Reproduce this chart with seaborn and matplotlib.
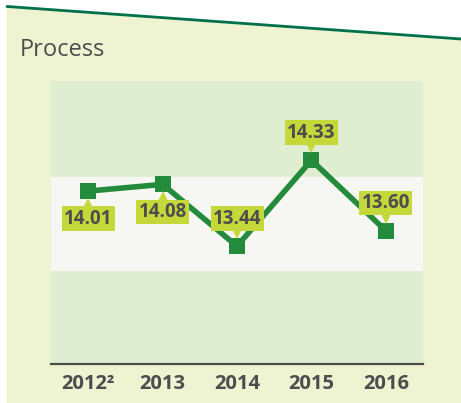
import matplotlib
matplotlib.use("Agg")
import matplotlib.pyplot as plt
import matplotlib.transforms as mtransforms
from matplotlib.patches import Polygon
from matplotlib.lines import Line2D
import seaborn as sns

# chart data
years = ["2012²", "2013", "2014", "2015", "2016"]
values = [14.01, 14.08, 13.44, 14.33, 13.60]
label_side = ["below", "below", "above", "above", "above"]
band_low = 13.19
band_high = 14.16
title = "Process"

# colours
panel_color = "#EEF3D2"
band_green = "#DFEDD0"
band_gray = "#F6F7F3"
line_color = "#238B3B"
label_color = "#C5D83A"
text_color = "#4D4D4D"
rule_color = "#00704A"

sns.set_theme(style="white")
plt.rcParams["font.family"] = ["Open Sans", "DejaVu Sans"]

W, H = 461, 403
fig = plt.figure(figsize=(W / 100, H / 100), dpi=100)
fig.patch.set_facecolor("white")

# slanted background panel and the rule on top of it
def fx(px):
    return px / W

def fy(py):
    return 1 - py / H

panel = Polygon([(fx(7), fy(403)), (fx(7), fy(6.5)), (fx(461), fy(39)), (fx(461), fy(403))],
                closed=True, transform=fig.transFigure, facecolor=panel_color,
                edgecolor="none", zorder=-2)
fig.patches.append(panel)
fig.lines.append(Line2D([fx(7), fx(461)], [fy(6.5), fy(39)], transform=fig.transFigure,
                        color=rule_color, lw=2.0, zorder=-1))

fig.text(fx(20), fy(50), title, fontsize=17, color=text_color, ha="left",
         va="center")

ax = fig.add_axes([fx(51), fy(364), (423 - 51) / W, (364 - 81) / H])
ax.set_zorder(2)
ax.set_facecolor(band_green)
ax.axhspan(band_low, band_high, color=band_gray, zorder=0)

xs = list(range(len(years)))
sns.lineplot(x=xs, y=values, ax=ax, color=line_color, lw=4.0, marker="s",
             markersize=12, markeredgewidth=0, zorder=3)

ax.set_xlim(-0.5, 4.5)
ax.set_ylim(12.22, 15.15)

# value labels with small pointer triangles
for x, v, side in zip(xs, values, label_side):
    sign = -1 if side == "below" else 1
    ax.annotate(f"{v:.2f}", (x, v), xytext=(0, sign * 27.5), textcoords="offset pixels",
                ha="center", va="center", fontsize=13.5, fontweight="bold",
                color=text_color, zorder=5,
                bbox=dict(boxstyle="square,pad=0.12", fc=label_color, ec="none"))
    tri = mtransforms.offset_copy(ax.transData, fig=fig, x=0, y=sign * 13, units="dots")
    ax.plot([x], [v], marker="v" if side == "above" else "^", markersize=9,
            color=label_color, markeredgewidth=0, transform=tri, zorder=4)

ax.set_xticks(xs)
ax.set_xticklabels(years)
ax.set_yticks([])
ax.tick_params(axis="x", length=0, pad=7, labelsize=14.5, labelcolor=text_color)
for lab in ax.get_xticklabels():
    lab.set_fontweight("bold")
ax.set_xlabel("")
ax.set_ylabel("")
for s in ["top", "left", "right"]:
    ax.spines[s].set_visible(False)
ax.spines["bottom"].set_color("#4A4F4A")
ax.spines["bottom"].set_linewidth(1.6)

fig.savefig("out.png", dpi=100)
